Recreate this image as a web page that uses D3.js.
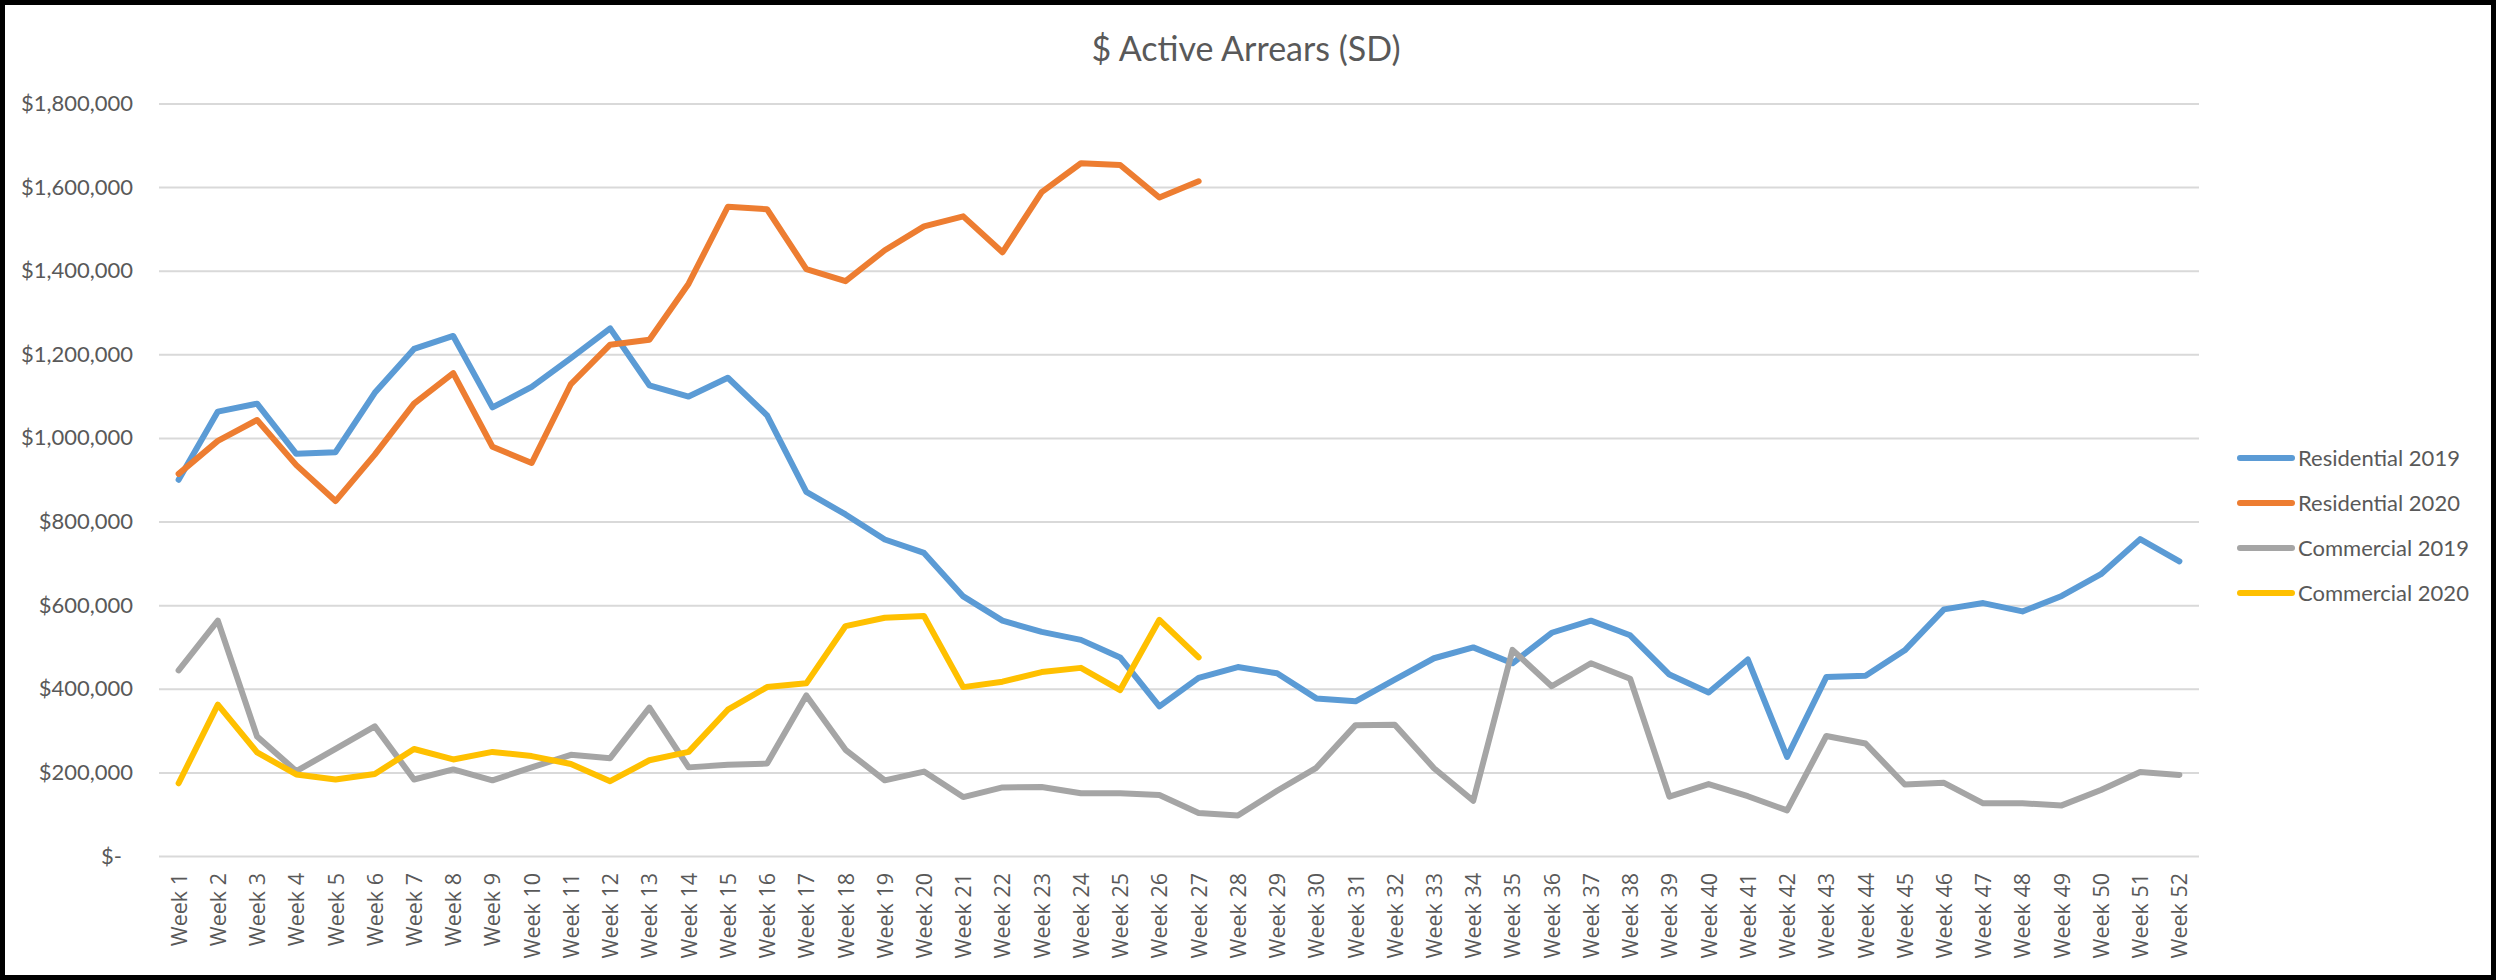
<!DOCTYPE html>
<html>
<head>
<meta charset="utf-8">
<script src="https://cdn.jsdelivr.net/npm/d3@7"></script>
<style>
  html, body { margin: 0; padding: 0; background: #fff; }
  svg text { font-family: Lato, "Open Sans", sans-serif; fill: #595959; }
</style>
</head>
<body>
<svg id="svg" width="2496" height="980"></svg>
<script>
// weeks along the x axis
const weeks = d3.range(1, 53).map(i => "Week " + i);

// values ($)
const residential2019 = [900000, 1063000, 1082000, 962000, 966000, 1108000, 1213000, 1244000, 1073000, 1122000,
    1191000, 1262000, 1126000, 1099000, 1144000, 1054000, 871000, 817000, 757000, 725000,
    621000, 563000, 536000, 517000, 475000, 358000, 426000, 452000, 437000, 377000,
    370000, 422000, 473000, 499000, 461000, 534000, 563000, 528000, 434000, 391000,
    470000, 237000, 428000, 431000, 492000, 590000, 605000, 585000, 622000, 674000,
    758000, 705000];
const residential2020 = [914000, 993000, 1043000, 935000, 849000, 960000, 1082000, 1155000, 979000, 940000,
    1129000, 1223000, 1235000, 1369000, 1553000, 1547000, 1404000, 1375000, 1449000, 1506000,
    1530000, 1444000, 1588000, 1657000, 1653000, 1575000, 1614000];
const commercial2019 = [444000, 563000, 286000, 203000, 256000, 310000, 183000, 207000, 181000, 212000,
    242000, 234000, 355000, 212000, 218000, 221000, 384000, 254000, 181000, 202000,
    141000, 164000, 165000, 150000, 150000, 146000, 103000, 97000, 156000, 211000,
    313000, 314000, 210000, 132000, 493000, 406000, 461000, 424000, 142000, 172000,
    143000, 109000, 287000, 269000, 171000, 175000, 126000, 126000, 121000, 158000,
    201000, 194000];
const commercial2020 = [174000, 362000, 248000, 195000, 183000, 196000, 256000, 231000, 249000, 239000,
    220000, 179000, 229000, 249000, 350000, 404000, 413000, 550000, 570000, 574000,
    404000, 417000, 440000, 450000, 397000, 565000, 475000];

const seriesNames = ["Residential 2019", "Residential 2020", "Commercial 2019", "Commercial 2020"];
const seriesColors = ["#5B9BD5", "#ED7D31", "#A5A5A5", "#FFC000"];
const yTicks = d3.range(0, 1800001, 200000);

function main() {
    let width = 2496, height = 980;
    let svg = d3.select("#svg");
    let series = [residential2019, residential2020, commercial2019, commercial2020];

    let x = d3.scalePoint().domain(weeks).range([159, 2199]).padding(0.5);
    let y = d3.scaleLinear().domain([0, 1800000]).range([856, 103.5]);

    // frame
    svg.append("rect")
        .attr("x", 0).attr("y", 0)
        .attr("width", width).attr("height", height)
        .attr("fill", "#fff")
        .attr("stroke", "#000")
        .attr("stroke-width", 10);

    svg.append("text")
        .attr("x", 1246)
        .attr("y", 61)
        .attr("text-anchor", "middle")
        .attr("font-size", 34)
        .text("$ Active Arrears (SD)");

    // gridlines + y labels
    let fmt = v => v === 0 ? "$-" : "$" + d3.format(",")(v);
    let yAxis = d3.axisLeft(y).tickValues(yTicks).tickSize(-(2199 - 159)).tickFormat(fmt).tickPadding(26);
    let gy = svg.append("g").attr("transform", "translate(159,0)").call(yAxis);
    gy.select(".domain").remove();
    gy.selectAll(".tick line").attr("stroke", "#d9d9d9").attr("stroke-width", 2);
    gy.selectAll(".tick text")
        .attr("font-size", 22)
        .attr("dx", d => d === 0 ? -11 : 0);

    // x labels, rotated (style so it wins over the css rule)
    let xAxis = d3.axisBottom(x).tickSize(0).tickPadding(0);
    let gx = svg.append("g").attr("transform", "translate(0,856)").call(xAxis);
    gx.select(".domain").remove();
    gx.selectAll(".tick text")
        .style("font-family", "'Open Sans', Lato, sans-serif")
        .attr("font-size", 21.5)
        .attr("text-anchor", "end")
        .attr("transform", "translate(0,17) rotate(-90)")
        .attr("x", 0)
        .attr("y", 0)
        .attr("dy", "0.35em");

    let line = d3.line()
        .x((d, i) => x(weeks[i]))
        .y(d => y(d));

    series.forEach((vals, i) => {
        svg.append("path")
            .attr("d", line(vals))
            .attr("fill", "none")
            .attr("stroke", seriesColors[i])
            .attr("stroke-width", 6)
            .attr("stroke-linejoin", "round")
            .attr("stroke-linecap", "round");
    });

    // legend
    let legend = svg.append("g");
    seriesNames.forEach((name, i) => {
        let ly = 458 + i * 45;
        legend.append("line")
            .attr("x1", 2240).attr("x2", 2292)
            .attr("y1", ly).attr("y2", ly)
            .attr("stroke", seriesColors[i])
            .attr("stroke-width", 6)
            .attr("stroke-linecap", "round");
        legend.append("text")
            .attr("x", 2298)
            .attr("y", ly)
            .attr("dy", "0.35em")
            .attr("font-size", 22)
            .text(name);
    });
}

main();
</script>
</body>
</html>
